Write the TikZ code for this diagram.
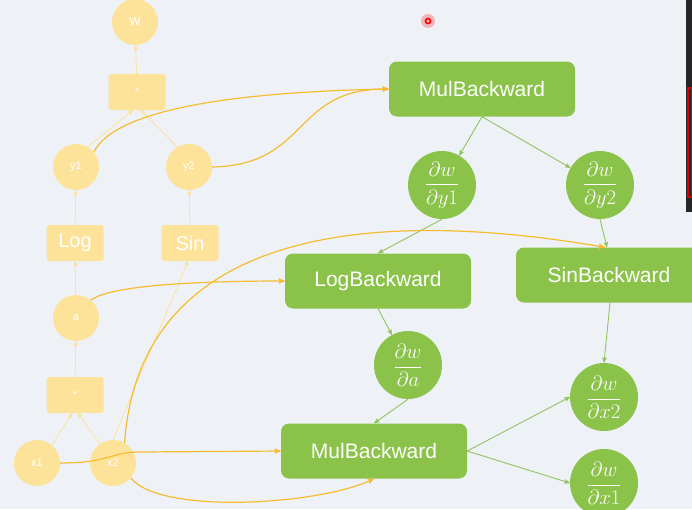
\documentclass[tikz,border=0pt]{standalone}
\usepackage{mathtools}
\usepackage{fontspec}
\newfontfamily\arialish{Liberation Sans}
\usepackage{tikz}
\usetikzlibrary{positioning, arrows}
\definecolor{bg}{HTML}{EEF2F7}
\definecolor{fwdfill}{HTML}{FDE399}
\definecolor{fwdline}{HTML}{FBE29E}
\definecolor{hook}{HTML}{F5BC30}
\definecolor{bwdfill}{HTML}{8BC24A}
\definecolor{bwdline}{HTML}{92C35E}
\tikzset{>=stealth'}
\tikzstyle{fwdcirc}=[circle, fill=fwdfill, text=white, minimum size=46pt, inner sep=0pt, font=\arialish\fontsize{11}{13}\selectfont]
\tikzstyle{fwdbox}=[rectangle, rounded corners=3pt, fill=fwdfill, text=white, minimum width=57pt, minimum height=36pt, inner sep=0pt, font=\arialish\fontsize{11}{13}\selectfont]
\tikzstyle{bwdbox}=[rectangle, rounded corners=8pt, fill=bwdfill, text=white, minimum width=186pt, minimum height=55pt, inner sep=0pt, font=\arialish\fontsize{21}{25}\selectfont]
\tikzstyle{grad}=[circle, fill=bwdfill, text=white, minimum size=68pt, inner sep=0pt, font=\fontsize{20}{24}\selectfont]
\tikzstyle{fwdedge}=[->, fwdline, line width=0.8pt]
\tikzstyle{hookedge}=[->, hook, line width=1.2pt]
\tikzstyle{bwdedge}=[->, bwdline, line width=0.9pt]

\begin{document}
\begin{tikzpicture}[x=1pt, y=-1pt]
\fill[bg] (0, 0) rectangle (692, 509);
\useasboundingbox (0, 0) rectangle (692, 509);
% forward graph, faded
\node[fwdcirc, font=\arialish\fontsize{15}{17}\selectfont] (w) at (135, 22) {w};
\node[fwdbox] (mul1) at (137, 92) {*};
\node[fwdcirc] (y1) at (76, 167) {y1};
\node[fwdcirc] (y2) at (189, 167) {y2};
\node[fwdbox, font=\arialish\fontsize{20}{24}\selectfont] (log) at (75, 243) {Log};
\node[fwdbox, font=\arialish\fontsize{20}{24}\selectfont] (sin) at (190, 243) {Sin};
\node[fwdcirc] (a) at (76, 318) {a};
\node[fwdbox] (mul2) at (75, 395) {*};
\node[fwdcirc] (x1) at (37, 463) {x1};
\node[fwdcirc] (x2) at (113, 463) {x2};
\draw[fwdedge] (mul1) -- (w);
\draw[fwdedge] (y1.60) -- ([xshift=-4pt]mul1.south);
\draw[fwdedge] (y2.120) -- ([xshift=4pt]mul1.south);
\draw[fwdedge] (log) -- (y1);
\draw[fwdedge] (sin) -- (y2);
\draw[fwdedge] (a) -- (log);
\draw[fwdedge] (mul2) -- (a);
\draw[fwdedge] (x1.50) -- ([xshift=-3pt]mul2.south);
\draw[fwdedge] (x2.125) -- ([xshift=3pt]mul2.south);
\draw[fwdedge] (x2.north) -- ([xshift=-2pt]sin.south);
% backward graph
\node[bwdbox] (mulBack1) at (482, 89) {MulBackward};
\node[grad] (dwdy1) at (442, 185) {$\dfrac{\partial w}{\partial y1}$};
\node[grad] (dwdy2) at (600, 185) {$\dfrac{\partial w}{\partial y2}$};
\node[bwdbox] (logBack) at (378, 281) {LogBackward};
\node[bwdbox] (sinBack) at (609, 275) {SinBackward};
\node[grad] (dwda) at (408, 365) {$\dfrac{\partial w}{\partial a}$};
\node[bwdbox] (mulBack2) at (374, 451) {MulBackward};
\node[grad] (dwdx2) at (604, 397) {$\dfrac{\partial w}{\partial x2}$};
\node[grad] (dwdx1) at (604, 483) {$\dfrac{\partial w}{\partial x1}$};
\draw[bwdedge] (mulBack1.south) -- (dwdy1);
\draw[bwdedge] (mulBack1.south) -- (dwdy2);
\draw[bwdedge] (dwdy1.south) -- (logBack.north);
\draw[bwdedge] (dwdy2.south) -- ([xshift=-2pt]sinBack.north);
\draw[bwdedge] (logBack.south) -- (dwda);
\draw[bwdedge] (dwda.south) -- (mulBack2.north);
\draw[bwdedge] ([xshift=1pt]sinBack.south) -- (dwdx2.north);
\draw[bwdedge] (mulBack2.east) -- (dwdx2.west);
\draw[bwdedge] (mulBack2.east) -- (dwdx1.west);
% hooks from forward to backward
\draw[hookedge] (y1.40) .. controls (115, 110) and (230, 92) .. (mulBack1.west);
\draw[hookedge] (y2.east) .. controls (310, 165) and (292, 88) .. (mulBack1.west);
\draw[hookedge] (a.50) .. controls (110, 285) and (200, 281) .. (logBack.west);
\draw[hookedge] (x2.60) .. controls (138, 250) and (330, 200) .. ([xshift=-4pt]sinBack.north);
\draw[hookedge] (x1.east) .. controls (110, 463) and (110, 452) .. (140, 452) -- (mulBack2.west);
\draw[hookedge] (x2.-40) .. controls (160, 515) and (320, 505) .. (mulBack2.south);
% screen bits
\fill[black!85] (686, 0) rectangle (692, 212);
\draw[red!85!black, line width=1.2pt] (688, 88) rectangle (691.4, 197);
\fill[red, opacity=0.25] (428, 21) circle (7pt);
\draw[red, line width=1.6pt] (428, 21) circle (2.5pt);
\end{tikzpicture}
\end{document}
